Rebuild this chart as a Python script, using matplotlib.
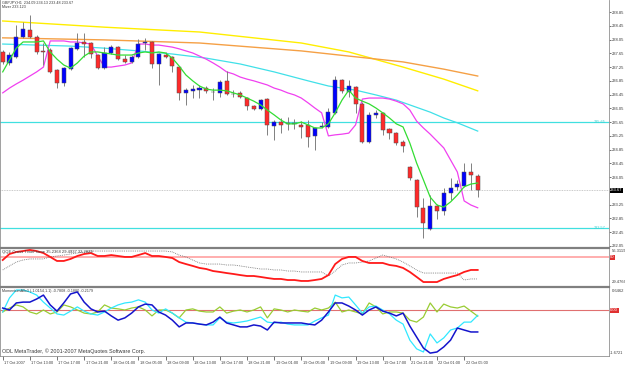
import numpy as np
import matplotlib.pyplot as plt
import matplotlib.transforms as mtransforms
from matplotlib.patches import Rectangle

plt.rcParams['font.family'] = ['Liberation Sans', 'DejaVu Sans']

# GBPJPY H1, 17 Oct 2007 09:00 .. 22 Oct 2007 05:00
opens = [237.69, 237.37, 237.54, 238.12, 238.33, 238.12, 237.72, 237.75, 237.17, 236.79,
         237.19, 237.78, 237.98, 237.95, 237.60, 237.22, 237.66, 237.83, 237.48, 237.40,
         237.54, 237.95, 237.98, 237.34, 237.60, 237.54, 237.25, 236.50, 236.56, 236.58,
         236.64, 236.53, 236.50, 236.85, 236.47, 236.50, 236.35, 236.12, 236.03, 236.32,
         235.54, 235.65, 235.60, 235.60, 235.57, 235.57, 235.25, 235.51, 235.51, 235.92,
         236.87, 236.53, 236.67, 236.18, 235.07, 235.86, 235.92, 235.45, 235.33, 235.07,
         234.35, 233.97, 233.16, 232.54, 233.21, 233.07, 233.59, 233.77, 233.79, 234.20,
         234.09]
highs = [237.75, 237.69, 238.47, 238.56, 238.76, 238.18, 237.95, 237.80, 237.19, 237.25,
         237.83, 238.24, 238.24, 237.98, 237.63, 237.83, 237.89, 237.86, 237.60, 237.60,
         238.07, 238.10, 238.01, 237.66, 237.69, 237.57, 237.28, 236.64, 236.73, 236.73,
         236.70, 236.64, 236.87, 237.14, 236.58, 236.56, 236.38, 236.15, 236.32, 236.35,
         235.71, 235.77, 235.80, 235.74, 235.68, 235.71, 235.51, 235.65, 236.06, 236.99,
         236.90, 236.87, 236.70, 236.24, 235.94, 236.00, 235.94, 235.48, 235.36, 235.13,
         234.38, 234.00, 233.45, 233.53, 233.27, 233.74, 234.03, 233.97, 234.46, 234.46,
         234.13]
lows = [237.34, 237.31, 237.51, 238.10, 238.10, 237.63, 237.31, 237.08, 236.64, 236.70,
        237.17, 237.75, 237.54, 237.51, 237.19, 237.19, 237.63, 237.46, 237.37, 237.37,
        237.51, 237.75, 237.22, 236.73, 237.51, 237.11, 236.29, 236.15, 236.35, 236.35,
        236.50, 236.29, 236.38, 236.44, 236.38, 236.35, 236.00, 236.00, 236.00, 235.28,
        235.13, 235.33, 235.42, 235.45, 235.19, 234.93, 234.84, 235.48, 235.48, 235.89,
        236.50, 236.38, 235.92, 235.04, 235.04, 235.77, 235.28, 235.16, 234.99, 234.78,
        233.97, 232.89, 232.28, 232.52, 232.84, 232.95, 233.39, 233.68, 233.77, 233.68,
        233.48]
closes = [237.40, 237.60, 238.12, 238.36, 238.12, 237.69, 237.69, 237.11, 236.79, 237.22,
          237.80, 237.95, 237.92, 237.63, 237.22, 237.66, 237.83, 237.48, 237.40, 237.54,
          237.92, 237.98, 237.34, 237.63, 237.54, 237.28, 236.50, 236.58, 236.61, 236.64,
          236.56, 236.52, 236.82, 236.47, 236.46, 236.38, 236.12, 236.03, 236.29, 235.57,
          235.65, 235.57, 235.59, 235.61, 235.51, 235.22, 235.48, 235.52, 235.94, 236.87,
          236.56, 236.70, 236.18, 235.07, 235.86, 235.92, 235.42, 235.33, 235.04, 234.96,
          234.03, 233.18, 232.72, 233.21, 233.07, 233.59, 233.74, 233.85, 234.20, 234.11,
          233.67]

# fast moving average (green)
ma_fast = [237.11, 237.46, 237.80, 237.98, 237.98, 237.98, 238.01, 237.69, 237.48, 237.31,
           237.22, 237.37, 237.57, 237.69, 237.69, 237.66, 237.63, 237.60, 237.60, 237.60,
           237.66, 237.69, 237.66, 237.69, 237.66, 237.51, 237.28, 237.02, 236.85, 236.70,
           236.61, 236.58, 236.58, 236.56, 236.50, 236.44, 236.35, 236.26, 236.15, 236.00,
           235.86, 235.71, 235.60, 235.60, 235.65, 235.57, 235.48, 235.48, 235.60, 235.92,
           236.29, 236.58, 236.35, 236.26, 236.18, 236.06, 235.92, 235.77, 235.60, 235.51,
           235.04, 234.46, 233.97, 233.47, 233.24, 233.18, 233.33, 233.53, 233.77, 233.85,
           233.88]
# magenta line
mizer = [236.50, 236.64, 236.76, 236.87, 236.99, 237.11, 237.25, 238.01, 238.01, 238.01,
         237.98, 237.98, 237.95, 237.92, 237.57, 237.25, 237.25, 237.28, 237.31, 237.37,
         237.92, 237.92, 237.89, 237.89, 237.86, 237.83, 237.78, 237.72, 237.66, 237.57,
         237.48, 237.37, 237.25, 237.11, 237.05, 236.96, 236.90, 236.85, 236.79, 236.73,
         236.64, 236.58, 236.50, 236.44, 236.35, 236.21, 236.06, 235.92, 235.25, 235.28,
         235.30, 235.33, 235.57, 236.32, 236.35, 236.35, 236.35, 236.32, 236.26, 236.18,
         236.00, 235.68, 235.48, 235.30, 235.10, 234.90, 234.55, 234.20, 233.36, 233.24,
         233.16]
# slow averages (read every few bars)
slow_idx = [0, 15, 29, 44, 51, 59, 65, 70]
ma_yellow = [238.59, 238.41, 238.27, 237.95, 237.69, 237.25, 236.90, 236.56]
ma_orange = [238.10, 238.04, 237.95, 237.72, 237.57, 237.40, 237.19, 236.99]
cyan_idx = [0, 10, 15, 20, 25, 30, 35, 40, 45, 48, 52, 55, 58, 60, 63, 65, 67, 70]
ma_cyan = [237.92, 237.86, 237.80, 237.72, 237.63, 237.51, 237.34, 237.11, 236.85, 236.70,
           236.58, 236.44, 236.29, 236.15, 235.94, 235.77, 235.63, 235.39]
hlines_cyan = [235.65, 232.57]
bid = 233.67
price_ticks = [238.85, 238.45, 238.05, 237.65, 237.25, 236.85, 236.45, 236.05, 235.65,
               235.25, 234.85, 234.45, 234.05, 233.25, 232.85, 232.45, 232.05]

# QQE panel
qqe_red = [48.1, 52.6, 54.1, 54.8, 55.6, 54.8, 53.3, 50.4, 47.4, 47.4,
           48.9, 51.1, 52.6, 53.3, 51.1, 51.1, 51.8, 51.1, 50.4, 50.4,
           51.8, 53.3, 51.1, 51.1, 50.4, 49.6, 46.6, 45.1, 43.7, 42.2,
           41.4, 39.9, 39.2, 38.4, 37.7, 36.9, 36.2, 36.2, 35.5, 34.7,
           34.0, 34.0, 33.2, 33.2, 32.5, 32.5, 33.2, 34.0, 36.9, 45.1,
           48.9, 50.4, 50.4, 47.4, 45.9, 45.9, 45.9, 44.4, 43.7, 42.2,
           39.2, 35.5, 31.7, 31.7, 31.7, 34.0, 35.5, 36.9, 39.2, 40.7,
           40.7]
qqe_gray = [40.7, 43.7, 46.6, 48.1, 48.9, 48.9, 48.9, 50.4, 51.1, 51.8,
            52.6, 53.3, 54.1, 54.8, 54.8, 54.8, 54.8, 54.8, 54.8, 54.8,
            54.8, 54.8, 54.8, 54.8, 54.8, 54.1, 51.8, 50.4, 48.1, 45.9,
            45.1, 45.1, 45.1, 44.4, 44.4, 43.7, 42.9, 42.2, 41.4, 41.4,
            40.7, 40.7, 39.9, 39.9, 39.2, 39.2, 39.2, 39.2, 36.2, 39.9,
            44.4, 45.9, 45.9, 46.6, 47.4, 49.6, 51.8, 50.4, 48.9, 46.6,
            43.7, 40.7, 38.4, 38.4, 38.4, 38.4, 38.4, 38.4, 33.2, 34.0,
            34.0]

# Momentum panel
mom_blue = [0.07, 0.00, 0.25, 0.28, 0.28, 0.39, 0.53, 0.18, -0.04, 0.25,
            0.57, 0.64, 0.28, 0.04, -0.07, -0.04, -0.21, -0.36, -0.28, -0.11,
            0.11, 0.21, 0.18, -0.07, -0.18, -0.36, -0.60, -0.46, -0.46, -0.50,
            -0.53, -0.43, -0.25, -0.46, -0.53, -0.60, -0.60, -0.53, -0.57, -0.71,
            -0.43, -0.46, -0.46, -0.46, -0.46, -0.50, -0.53, -0.36, -0.07, 0.25,
            0.25, 0.14, 0.00, -0.18, 0.00, 0.11, -0.04, -0.11, -0.21, -0.11,
            -0.57, -0.96, -1.35, -1.53, -1.49, -1.31, -1.07, -0.64, -0.71, -0.78,
            -0.78]
mom_cyan = [-0.07, 0.43, 0.71, 0.71, 0.64, 0.53, 0.28, 0.07, -0.14, -0.18,
            -0.04, 0.11, -0.04, -0.14, -0.18, -0.07, 0.07, 0.18, 0.25, 0.28,
            0.36, 0.28, 0.00, -0.11, 0.04, -0.11, -0.28, -0.43, -0.46, -0.50,
            -0.53, -0.53, -0.28, -0.43, -0.46, -0.43, -0.39, -0.32, -0.25, -0.43,
            -0.46, -0.43, -0.50, -0.53, -0.53, -0.53, -0.39, -0.28, -0.18, 0.53,
            0.43, 0.46, 0.18, -0.11, 0.11, 0.14, 0.00, -0.14, -0.36, -0.50,
            -1.07, -1.38, -1.49, -0.85, -1.17, -0.99, -0.71, -0.64, -0.43, -0.43,
            -0.19]
mom_olive = [-0.07, 0.07, 0.18, 0.11, -0.07, -0.14, 0.00, -0.14, -0.07, 0.18,
             0.11, 0.00, -0.11, -0.14, -0.07, 0.18, 0.07, 0.04, 0.00, 0.07,
             0.11, 0.00, -0.21, 0.00, 0.00, -0.11, -0.28, 0.00, 0.04, -0.04,
             -0.07, -0.07, 0.11, -0.11, -0.04, 0.00, -0.07, 0.00, 0.11, -0.28,
             0.04, 0.00, -0.07, 0.00, -0.04, -0.07, 0.07, 0.00, 0.07, 0.28,
             -0.07, 0.00, -0.07, -0.14, 0.25, 0.11, -0.14, -0.07, -0.07, -0.11,
             -0.36, -0.43, -0.25, 0.25, -0.07, 0.21, 0.11, 0.07, 0.14, -0.04,
             -0.22]

time_idx = [0, 4, 8, 12, 16, 20, 24, 28, 32, 36, 40, 44, 48, 52, 56, 60, 64, 68]
time_labels = ['17 Oct 2007', '17 Oct 13:00', '17 Oct 17:00', '17 Oct 21:00',
               '18 Oct 01:00', '18 Oct 05:00', '18 Oct 09:00', '18 Oct 13:00',
               '18 Oct 17:00', '18 Oct 21:00', '19 Oct 01:00', '19 Oct 05:00',
               '19 Oct 09:00', '19 Oct 13:00', '19 Oct 17:00', '21 Oct 21:00',
               '22 Oct 01:00', '22 Oct 05:00']

bars = np.arange(len(closes))
FS = 3.0    # panel captions
FR = 3.0    # right scale
FX = 2.8    # time scale
TXT = '#3a3a3a'

fig = plt.figure(figsize=(6.25, 3.65), dpi=100)
W, H = 625.0, 365.0
ax = fig.add_axes([0, 118 / H, 609 / W, 247 / H])
ax_q = fig.add_axes([0, 79.5 / H, 609 / W, 37.5 / H])
ax_m = fig.add_axes([0, 9 / H, 609 / W, 69 / H])

for a in (ax, ax_q, ax_m):
    a.set_xlim(-0.4, 89.35)
    a.set_facecolor('white')
    a.yaxis.tick_right()
    a.tick_params(axis='y', labelsize=FR, length=1.5, width=0.5, pad=0.4, colors=TXT)
    a.tick_params(axis='x', bottom=False, labelbottom=False)
    for s in a.spines.values():
        s.set_color('#909090')
        s.set_linewidth(0.6)
ax.spines['top'].set_visible(False)
ax.spines['bottom'].set_visible(False)
ax_q.spines['bottom'].set_visible(False)
for a in (ax_q, ax_m):
    a.spines['top'].set_linewidth(1.6)
    a.spines['top'].set_color('#808080')

# ---- main chart ----
ax.set_ylim(232.02, 239.20)
ax.set_yticks(price_ticks)
ax.set_yticklabels(['%.2f' % t for t in price_ticks])

for p in hlines_cyan:
    ax.axhline(p, color='#40E0E0', lw=0.9, zorder=1)
    ax.text(88.9, p, '%.2f' % p, color='#40D0D0', fontsize=2.8, ha='right', va='center', zorder=2)
ax.axhline(bid, color='#b8b8b8', lw=0.6, ls=(0, (1, 1)), zorder=1)

ax.plot(slow_idx, ma_yellow, color='#FFEE00', lw=1.0, zorder=2)
ax.plot(slow_idx, ma_orange, color='#F5A045', lw=1.0, zorder=2)
ax.plot(cyan_idx, ma_cyan, color='#40E0E8', lw=0.9, zorder=2)
ax.plot(bars, mizer, color='#F040F0', lw=0.9, zorder=2)

for i in bars:
    o, h, l, c = opens[i], highs[i], lows[i], closes[i]
    ax.vlines(i, l, h, color='#808080', lw=0.7, zorder=3)
    col = '#0000FF' if c > o else '#FF2A2A'
    bot = min(o, c)
    ht = max(abs(c - o), 0.02)
    ax.add_patch(Rectangle((i - 0.3, bot), 0.6, ht, facecolor=col,
                           edgecolor='#505050', lw=0.35, zorder=4))

ax.plot(bars, ma_fast, color='#33DD33', lw=0.9, zorder=5)

ax.text(1.002, bid, '%.2f' % bid, transform=ax.get_yaxis_transform(), fontsize=FR,
        color='white', va='center', ha='left',
        bbox=dict(boxstyle='square,pad=0.12', fc='black', ec='none'))
ax.text(0.004, 0.996, 'GBPJPY,H1  234.09 234.13 233.48 233.67\nMizer 233.123',
        transform=ax.transAxes, fontsize=2.7, va='top', ha='left', color=TXT,
        linespacing=1.15)

# ---- QQE panel ----
ax_q.set_ylim(29.12, 57.06)
ax_q.set_yticks([])
ax_q.axhline(50, color='#FFA8A8', lw=1.3, zorder=1)
ax_q.plot(bars, qqe_gray, color='#707070', lw=0.6, ls=(0, (1, 1.2)), zorder=2)
ax_q.plot(bars, qqe_red, color='#FF1A1A', lw=1.3, zorder=3)
ax_q.text(0.004, 0.95, 'QQE Cross TimeFrame 35.2368 29.4937 33.2829', transform=ax_q.transAxes,
          fontsize=FS, va='top', ha='left', color=TXT)
ax_q.text(1.004, 0.97, '56.3119', transform=ax_q.transAxes, fontsize=FR, va='top', color=TXT)
ax_q.text(1.004, 0.03, '29.4766', transform=ax_q.transAxes, fontsize=FR, va='bottom', color=TXT)
ax_q.text(1.002, 50, '50', transform=ax_q.get_yaxis_transform(), fontsize=FR, color='white',
          va='center', ha='left', bbox=dict(boxstyle='square,pad=0.12', fc='#E03030', ec='none'))

# ---- Momentum panel ----
ax_m.set_ylim(-1.633, 0.8165)
ax_m.set_yticks([])
ax_m.axhline(0, color='#E07070', lw=0.8, zorder=1)
ax_m.plot(bars, mom_olive, color='#99CC33', lw=0.9, zorder=2)
ax_m.plot(bars, mom_cyan, color='#30E8FF', lw=0.9, zorder=3)
ax_m.plot(bars, mom_blue, color='#1414CC', lw=1.1, zorder=4)
ax_m.text(0.004, 0.97, 'MomentumAllx3 (-1.0154,1.1) -0.7808 -0.1880 -0.2179',
          transform=ax_m.transAxes, fontsize=2.7, va='top', ha='left', color=TXT)
ax_m.text(0.004, 0.03, 'ODL MetaTrader, \u00a9 2001-2007 MetaQuotes Software Corp.',
          transform=ax_m.transAxes, fontsize=3.9, va='bottom', ha='left', color=TXT)
ax_m.text(1.004, 0.97, '0.6462', transform=ax_m.transAxes, fontsize=FR, va='top', color=TXT)
ax_m.text(1.002, 0.02, '-1.6721', transform=ax_m.transAxes, fontsize=2.8, va='bottom', color=TXT)
ax_m.text(1.002, 0, '0.00', transform=ax_m.get_yaxis_transform(), fontsize=FR, color='white',
          va='center', ha='left', bbox=dict(boxstyle='square,pad=0.12', fc='#E03030', ec='none'))

ax_m.tick_params(axis='x', bottom=True, labelbottom=True, length=3, width=0.5,
                 pad=0.3, labelsize=FX, colors=TXT)
ax_m.set_xticks(time_idx)
ax_m.set_xticklabels(time_labels, ha='left')
shift = mtransforms.ScaledTranslation(1.5 / 100, 0, fig.dpi_scale_trans)
for lab in ax_m.get_xticklabels():
    lab.set_transform(lab.get_transform() + shift)

fig.savefig('out.png', dpi=100, facecolor='white')
